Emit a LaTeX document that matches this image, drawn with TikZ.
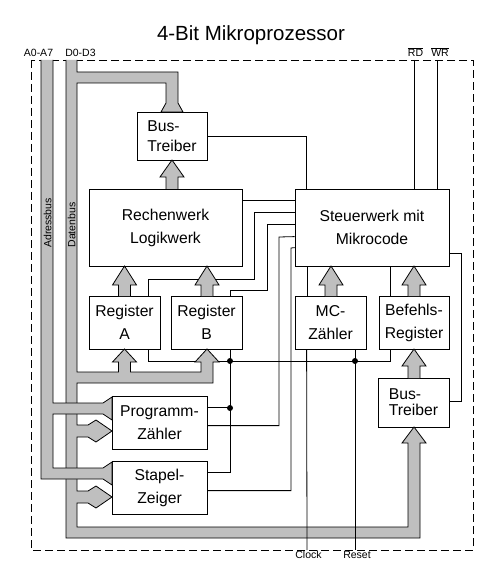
\documentclass[tikz,border=0pt]{standalone}
\usepackage{fontspec}
\setmainfont{Liberation Sans}
\newcommand{\ovl}[1]{$\overline{\hbox{#1}}$}

\begin{document}
\begin{tikzpicture}[x=1pt,y=-1pt,line width=0.8pt,
  block/.style={draw,rectangle,inner sep=0pt,align=center,font=\fontsize{15.7}{23}\selectfont},
  regblock/.style={block,minimum width=71pt,minimum height=53pt},
  bus/.style={fill=black!25,draw=black},
  pin/.style={inner sep=0pt,font=\fontsize{10.5}{12}\selectfont},
  dot/.style={circle,fill=black,inner sep=0pt,minimum size=6pt}]

  \useasboundingbox (0,0) rectangle (496,585);

  % title and chip frame
  \node (title) at (251,35) {\fontsize{20.5}{24}\selectfont 4-Bit Mikroprozessor};
  \draw[dash pattern=on 8pt off 4pt] (31,60) rectangle (473,550);

  % pins
  \node[pin,anchor=base] (a07) at (38.5,57) {A0-A7};
  \node[pin,anchor=base] (d03) at (80.5,57) {D0-D3};
  \node[pin,anchor=base] (rd) at (415.5,57) {\ovl{RD}};
  \node[pin,anchor=base] (wr) at (440,57) {\ovl{WR}};
  \node[pin,anchor=base] (clk) at (308.5,558) {Clock};
  \node[pin,anchor=base] (rst) at (357,558) {Reset};
  \coordinate (rdpin) at (414,60);
  \coordinate (wrpin) at (437,60);
  \coordinate (clkpin) at (307,550);
  \coordinate (rstpin) at (355,550);

  % blocks
  \node[block,minimum width=70pt,minimum height=48pt,align=left,
        font=\fontsize{15.7}{20}\selectfont] (bt1) at (172,136) {Bus-\\Treiber};
  \node[block,minimum width=153pt,minimum height=77pt] (alu) at (165.5,227.5) {Rechenwerk\\Logikwerk};
  \node[block,minimum width=154pt,minimum height=77pt] (sw) at (372,227.5) {Steuerwerk mit\\Mikrocode};
  \node[regblock] (rega) at (124.5,322.5) {Register\\A};
  \node[regblock] (regb) at (206.5,322.5) {Register\\B};
  \node[regblock] (mc) at (330.5,322.5) {MC-\\Zähler};
  \node[regblock,minimum width=70pt] (ir) at (414,322.5) {Befehls-\\Register};
  \node[block,minimum width=71pt,minimum height=49pt,align=left,
        font=\fontsize{15.7}{16}\selectfont] (bt2) at (413.5,402.5) {Bus-\\Treiber};
  \node[block,minimum width=95pt,minimum height=53pt] (pc) at (159.5,422.5) {Programm-\\Zähler};
  \node[block,minimum width=95pt,minimum height=53pt] (sp) at (159.5,487.5) {Stapel-\\Zeiger};

  % control lines
  \draw (bt1.east) -| ([xshift=12pt]sw.north west);
  \draw (rdpin) -- (rdpin |- sw.north);
  \draw (wrpin) -- (wrpin |- sw.north);
  \draw ([yshift=-12pt]alu.north east) -- ([yshift=-12pt]sw.north west);
  \draw ([xshift=-12pt]rega.north east) |- (254,279) |- ([yshift=-24pt]sw.north west);
  \draw ([xshift=-12pt]regb.north east) |- (267,290) |- ([yshift=-36pt]sw.north west);
  \draw ([yshift=-30pt]pc.north east) -| (279,237) -- ([yshift=-48pt]sw.north west);
  \draw ([yshift=-30pt]sp.north east) -| (291,248) -- ([yshift=-59pt]sw.north west);
  \draw ([xshift=13pt]sw.south west) -- ([xshift=13pt]mc.north west);
  \draw ([xshift=12pt]ir.north west) -- ++(0,-30);
  \draw ([yshift=13pt]sw.south east) -- ++(12,0) |- ([yshift=1.5pt]bt2.east);

  % reset lines to the registers
  \draw ([xshift=-12pt]rega.south east) -- ++(0,12) -| ([xshift=12pt]ir.south west);
  \draw ([xshift=-12pt]regb.south east) |- ([yshift=-12pt]sp.north east);
  \draw ([yshift=-12pt]pc.north east) -- ++(23,0);

  % data bus
  \filldraw[bus] (77,60) -- (77,72) -- (178,72) -- (178,103) -- (183,112) -- (161,112)
    -- (166,103) -- (166,83) -- (77,83) -- (77,372)
    -- (118.5,372) -- (118.5,362) -- (112.5,362) -- (124.5,349) -- (136.5,362) -- (130.5,362) -- (130.5,372)
    -- (201,372) -- (201,362) -- (195,362) -- (207,349) -- (219,362) -- (213,362) -- (213,383)
    -- (77,383) -- (77,425) -- (88,425) -- (96,420) -- (112,431) -- (96,442) -- (88,437) -- (77,437)
    -- (77,491) -- (88,491) -- (96,486) -- (112,497) -- (96,508) -- (88,503) -- (77,503)
    -- (77,527) -- (408,527) -- (408,443) -- (402,443) -- (414,427) -- (426,443) -- (420,443)
    -- (420,538) -- (66,538) -- (66,60);

  % address bus
  \filldraw[bus] (53,60) -- (53,403) -- (103,403) -- (112,397) -- (112,420) -- (103,414)
    -- (53,414) -- (53,468) -- (103,468) -- (112,462) -- (112,485) -- (103,479)
    -- (41,479) -- (41,60);

  % internal transfers
  \filldraw[bus] (166,189) -- (166,177) -- (160,177) -- (172,160) -- (184,177) -- (178,177) -- (178,189);
  \filldraw[bus] (118.5,296) -- (118.5,285) -- (112.5,285) -- (124.5,266) -- (136.5,285) -- (130.5,285) -- (130.5,296);
  \filldraw[bus] (201,296) -- (201,285) -- (195,285) -- (207,266) -- (219,285) -- (213,285) -- (213,296);
  \filldraw[bus] (325,296) -- (325,285) -- (319,285) -- (331,266) -- (343,285) -- (337,285) -- (337,296);
  \filldraw[bus] (408,296) -- (408,285) -- (402,285) -- (414,266) -- (426,285) -- (420,285) -- (420,296);
  \filldraw[bus] (408,378) -- (408,366) -- (402,366) -- (414,349) -- (426,366) -- (420,366) -- (420,378);

  \node[pin,rotate=90] (abus) at (47.5,223) {Adressbus};
  \node[pin,rotate=90] (dbus) at (71.5,225) {Datenbus};

  % clock and reset
  \draw (clkpin) -- ([xshift=12pt]mc.south west);
  \draw (rstpin) -- (rstpin |- mc.south);
  \node[dot] (j1) at (230,361) {};
  \node[dot] (j2) at (355,361) {};
  \node[dot] (j3) at (230,408) {};
\end{tikzpicture}
\end{document}
